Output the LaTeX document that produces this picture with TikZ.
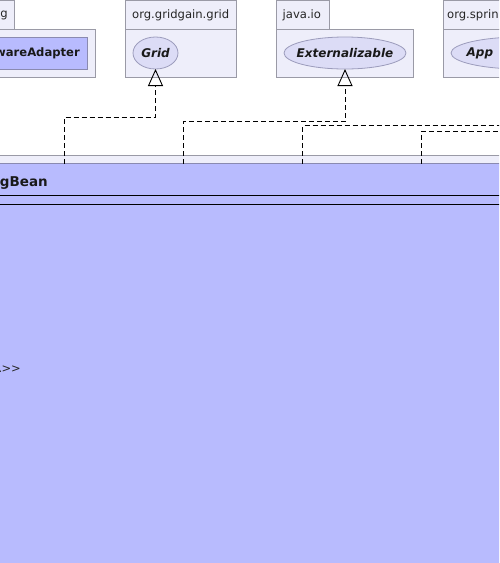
\documentclass[tikz,border=0pt]{standalone}
\usepackage{fontspec}
\setmainfont{DejaVu Sans}
\newfontfamily\plainsans{DejaVu Sans}
\usetikzlibrary{shapes.geometric,arrows.meta}
\definecolor{pkgfill}{HTML}{EEEEFA}
\definecolor{pkgline}{HTML}{9A9AA6}
\definecolor{ifill}{HTML}{DCDCF6}
\definecolor{iline}{HTML}{9C9CBC}
\definecolor{clsfill}{HTML}{B8BBFE}
\definecolor{clsline}{HTML}{8A8AB0}
\begin{document}
\begin{tikzpicture}[x=1pt,y=-1pt,
  pkgbox/.style={rectangle,draw=pkgline,fill=pkgfill,line width=0.8pt,
    anchor=north west,inner sep=0pt,outer sep=0pt},
  clsbox/.style={rectangle,draw=clsline,fill=clsfill,line width=0.8pt,
    anchor=north west,inner sep=0pt,outer sep=0pt},
  iface/.style={ellipse,draw=iline,fill=ifill,line width=0.8pt,
    inner sep=0pt,outer sep=0pt,minimum height=32pt},
  pkglabel/.style={font=\fontsize{11.6}{13}\selectfont,text=black!85,
    inner sep=0pt,anchor=west},
  ifacelabel/.style={font=\fontsize{12}{14}\selectfont\bfseries\itshape,
    text=black!90,inner sep=0pt},
  clslabel/.style={font=\fontsize{12.5}{14}\selectfont\bfseries,
    text=black!90,inner sep=0pt},
  realize/.style={draw=black,line width=0.9pt,dash pattern=on 5pt off 3pt,
    -{Triangle[open,width=15pt,length=17pt,line width=0.9pt]}},
  depline/.style={draw=black,line width=0.9pt,dash pattern=on 5pt off 3pt},
]
\useasboundingbox (0,0) rectangle (499,563);
\clip (0,0) rectangle (499,563);

% package on the left
\node[pkgbox,minimum width=30pt,minimum height=29pt] (tabA) at (-16,0.5) {};
\node[pkgbox,minimum width=111pt,minimum height=48pt] (pkgA) at (-16,29.5) {};
\node[pkglabel,anchor=east] (tabAtxt) at (8,15.5) {g};
\node[clsbox,minimum width=103pt,minimum height=32pt] (adapter) at (-16,37.5) {};
\node[clslabel,font=\fontsize{11.6}{14}\selectfont\bfseries,anchor=east]
  (adaptertxt) at (80,53) {wareAdapter};

% org.gridgain.grid
\node[pkgbox,minimum width=111pt,minimum height=29pt] (tabB) at (125.5,0.5) {};
\node[pkgbox,minimum width=111pt,minimum height=48pt] (pkgB) at (125.5,29.5) {};
\node[pkglabel] (tabBtxt) at (132,15.5) {org.gridgain.grid};
\node[iface,minimum width=45pt] (grid) at (155.5,53) {};
\node[ifacelabel] (gridtxt) at (155.5,53) {Grid};

% java.io
\node[pkgbox,minimum width=53pt,minimum height=29pt] (tabC) at (276.5,0.5) {};
\node[pkgbox,minimum width=137pt,minimum height=48pt] (pkgC) at (276.5,29.5) {};
\node[pkglabel] (tabCtxt) at (282.5,15.5) {java.io};
\node[iface,minimum width=122pt] (ext) at (345,53) {};
\node[ifacelabel] (exttxt) at (345,53) {Externalizable};

% org.spring...
\node[pkgbox,minimum width=120pt,minimum height=29pt] (tabD) at (443.5,0.5) {};
\node[pkgbox,minimum width=120pt,minimum height=48pt] (pkgD) at (443.5,29.5) {};
\node[pkglabel] (tabDtxt) at (447,15.5) {org.sprin};
\node[iface,minimum width=140pt] (app) at (521,53) {};
\node[ifacelabel,anchor=west] (apptxt) at (466.5,53) {App};

% enclosing package and the bean class
\node[pkgbox,minimum width=540pt,minimum height=440pt] (pkgE) at (-20,155.5) {};
\node[clsbox,minimum width=540pt,minimum height=430pt] (bean) at (-20,163.5) {};
\node[clslabel,font=\fontsize{13.5}{15}\selectfont\bfseries,anchor=base east]
  (beantxt) at (48,186) {gBean};
\draw[black,line width=0.9pt] (-20,195) -- (520,195);
\draw[black,line width=0.9pt] (-20,204) -- (520,204);
\node[font=\plainsans\fontsize{11.5}{13}\selectfont,text=black!85,inner sep=0pt,anchor=east]
  (stereo) at (21,368) {R>>};

% realizations
\coordinate (s1) at (64,163.5);
\coordinate (k1) at (64,117);
\coordinate (s2) at (183,163.5);
\coordinate (k2) at (183,121.5);
\coordinate (s3) at (302.5,163.5);
\coordinate (e3) at (515,125.5);
\coordinate (s4) at (421.5,163.5);
\coordinate (e4) at (515,131);
\draw[realize] (s1) -- (k1) -| (grid.south);
\draw[realize] (s2) -- (k2) -| (ext.south);
\draw[depline] (s3) |- (e3);
\draw[depline] (s4) |- (e4);
\end{tikzpicture}
\end{document}
